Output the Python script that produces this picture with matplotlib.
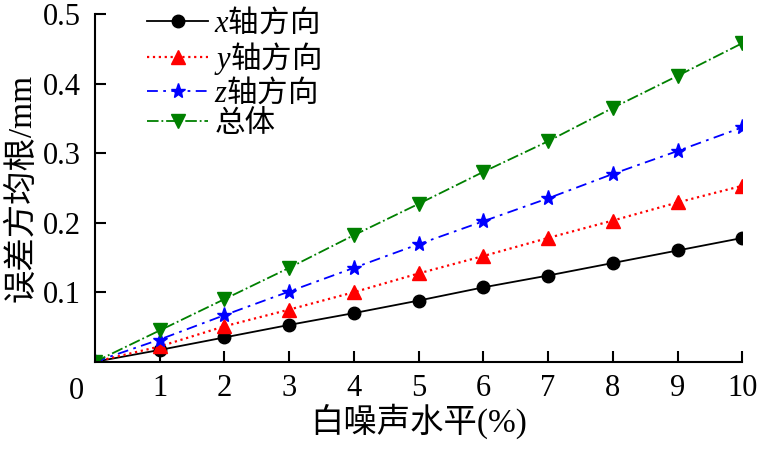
import matplotlib
matplotlib.use("Agg")
import matplotlib.pyplot as plt

plt.rcParams['font.family'] = ['Liberation Serif', 'Noto Sans CJK SC']
plt.rcParams['mathtext.fontset'] = 'custom'
plt.rcParams['mathtext.it'] = 'Liberation Serif:italic'
plt.rcParams['mathtext.rm'] = 'Noto Sans CJK SC'

noise = [0, 1, 2, 3, 4, 5, 6, 7, 8, 9, 10]
err_x = [0, 0.017, 0.035, 0.053, 0.070, 0.088, 0.107, 0.124, 0.142, 0.160, 0.178]
err_y = [0, 0.022, 0.051, 0.075, 0.100, 0.127, 0.152, 0.178, 0.203, 0.229, 0.253]
err_z = [0, 0.032, 0.067, 0.101, 0.135, 0.169, 0.202, 0.235, 0.270, 0.303, 0.337]
err_all = [0, 0.045, 0.090, 0.135, 0.182, 0.227, 0.273, 0.317, 0.365, 0.411, 0.458]
labels = [r'$x\mathrm{轴方向}$', r'$y\mathrm{轴方向}$', r'$z\mathrm{轴方向}$', '总体']
xticks = [1, 2, 3, 4, 5, 6, 7, 8, 9, 10]
yticks = [0.1, 0.2, 0.3, 0.4, 0.5]

TFS = 22
LFS = 24
GFS = 22

fig = plt.figure(figsize=(7.59, 4.5), dpi=100)
ax = fig.add_axes([0.125, 0.196, 0.853, 0.773])

ax.plot(noise, err_x, color='black', linestyle='-', marker='o', markersize=9, lw=1.3, label=labels[0])
ax.plot(noise, err_y, color='red', linestyle=':', marker='^', markersize=10, lw=1.6, label=labels[1])
ax.plot(noise, err_z, color='blue', linestyle=(0, (6, 3, 1.5, 3)), marker='*', markersize=11, lw=1.3, label=labels[2])
ax.plot(noise, err_all, color='green', linestyle='-.', marker='v', markersize=10, lw=1.3, label=labels[3])

ax.set_xlim(0, 10)
ax.set_ylim(0, 0.5)
ax.set_xticks(xticks)
ax.set_yticks(yticks)
ax.set_yticklabels([f'{v:g}' for v in yticks])
for s in ['top', 'right']:
    ax.spines[s].set_visible(False)
for s in ['left', 'bottom']:
    ax.spines[s].set_linewidth(1.5)
ax.tick_params(direction='in', length=8, width=1.5, labelsize=TFS)
ax.tick_params(axis='x', pad=9)
ax.tick_params(axis='y', pad=10)
ax.text(-0.28, -0.022, '0', transform=ax.transData, ha='center', va='top', fontsize=TFS)

ax.set_xlabel('白噪声水平(%)', fontsize=LFS, labelpad=0)
ax.set_ylabel('误差方均根/mm', fontsize=LFS, labelpad=4)

ax.legend(loc='upper left', bbox_to_anchor=(0.062, 1.055), frameon=False, fontsize=GFS,
          handlelength=2.0, handletextpad=0.2, labelspacing=0.03, borderaxespad=0)

fig.savefig('out.png', dpi=100)
